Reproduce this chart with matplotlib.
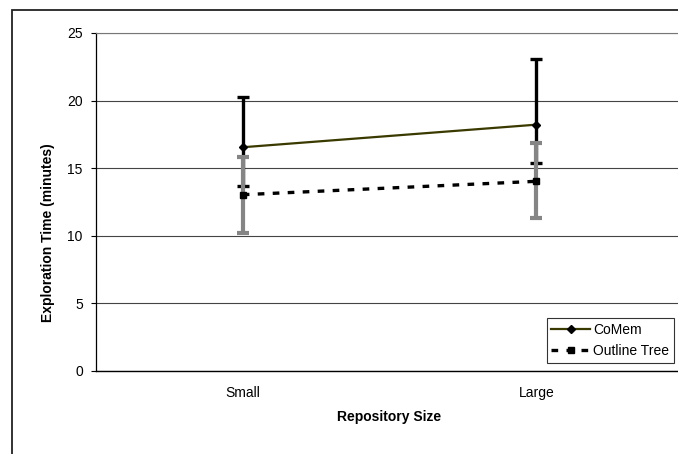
import numpy as np
import matplotlib
matplotlib.use("Agg")
import matplotlib.pyplot as plt
from matplotlib.patches import Rectangle

plt.rcParams['font.family'] = ['Liberation Sans', 'DejaVu Sans']

# Datos
categorias = ["Small", "Large"]
comem = [16.55, 18.22]
comem_alto = [20.24, 23.04]
comem_bajo = [13.65, 15.41]
outline = [13.04, 14.03]
outline_alto = [15.85, 16.87]
outline_bajo = [10.24, 11.31]
yticks = [0, 5, 10, 15, 20, 25]

W, H = 678, 454
fig = plt.figure(figsize=(W / 100, H / 100), dpi=100)

# Marco exterior del gráfico
fig.patches.append(Rectangle((12 / W, -0.1), 1.2, (H - 10) / H + 0.1,
                             transform=fig.transFigure, fill=False,
                             edgecolor="#222222", linewidth=1.3))

# Área de trazado (en píxeles)
izq, der, arr, aba = 96, 683, 33, 371
ax = fig.add_axes([izq / W, (H - aba) / H, (der - izq) / W, (aba - arr) / H])

x = np.arange(len(categorias))

# CoMem
err_c = [np.array(comem) - np.array(comem_bajo), np.array(comem_alto) - np.array(comem)]
ax.errorbar(x, comem, yerr=err_c, fmt="none", ecolor="black", elinewidth=2.4,
            capsize=4.5, capthick=2.4, zorder=3)
ax.plot(x, comem, color="#3a3a00", linewidth=1.6, marker="D", markersize=4.5,
        markerfacecolor="black", markeredgecolor="black", zorder=4, label="CoMem")

# Outline Tree
err_o = [np.array(outline) - np.array(outline_bajo), np.array(outline_alto) - np.array(outline)]
ax.errorbar(x, outline, yerr=err_o, fmt="none", ecolor="#858585", elinewidth=3,
            capsize=4, capthick=3, zorder=5)
ax.plot(x, outline, color="black", linewidth=2.4, linestyle=(0, (2, 2.5)), marker="s",
        markersize=5, markerfacecolor="black", markeredgecolor="black", zorder=6,
        label="Outline Tree")

ax.set_xlim(-0.5, 1.5)
ax.set_ylim(0, 25)
ax.set_yticks(yticks)
ax.set_xticks(x)
ax.set_xticklabels(categorias)
ax.tick_params(axis="y", direction="out", length=3.5, width=0.8, pad=6, labelsize=10)
ax.tick_params(axis="x", length=0, pad=11, labelsize=10)

ax.yaxis.grid(True, color="#444444", linewidth=0.8)
ax.set_axisbelow(True)
ax.spines["right"].set_visible(False)
ax.spines["top"].set_color("#777777")
ax.spines["top"].set_linewidth(0.8)
ax.spines["left"].set_linewidth(0.9)
ax.spines["bottom"].set_linewidth(1.0)

# Títulos de los ejes
fig.text((izq + der) / 2 / W, 1 - 417 / H, "Repository Size", ha="center", va="center",
         fontsize=10, fontweight="bold")
fig.text(48 / W, 1 - 233 / H, "Exploration Time (minutes)", ha="center", va="center",
         rotation=90, fontsize=10, fontweight="bold")

# Leyenda
leg = ax.legend(loc="lower right", bbox_to_anchor=(674 / W, 1 - 363 / H),
                bbox_transform=fig.transFigure, fontsize=10, frameon=True,
                fancybox=False, edgecolor="black", handlelength=2.8,
                borderaxespad=0, borderpad=0.35, labelspacing=0.5, handletextpad=0.2)
leg.get_frame().set_linewidth(0.8)

fig.savefig("out.png", dpi=100)
